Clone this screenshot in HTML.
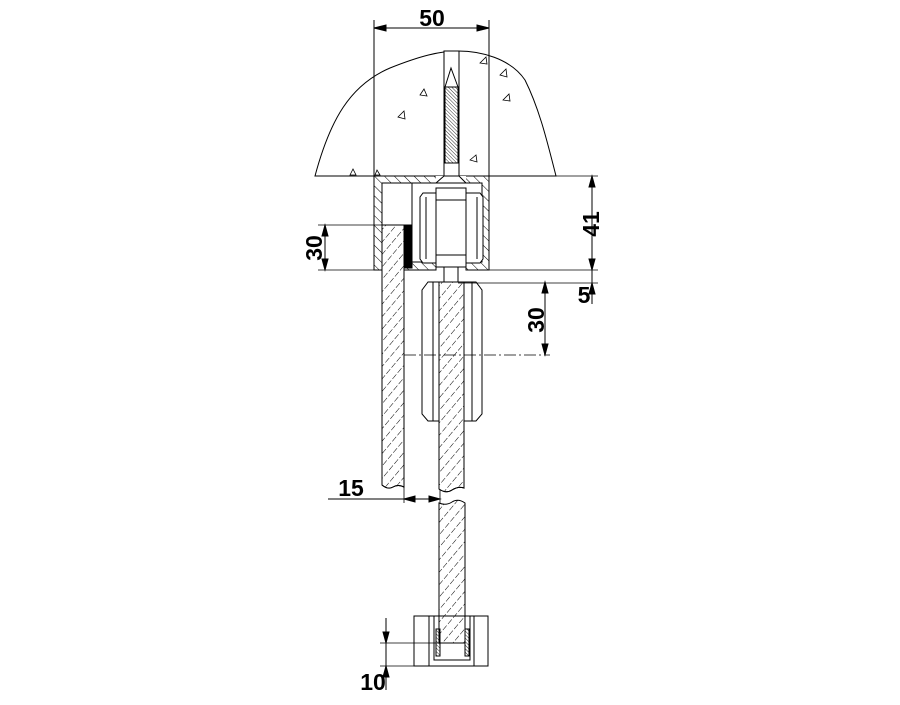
<!DOCTYPE html>
<html><head><meta charset="utf-8"><style>html,body{margin:0;padding:0;background:#fff}</style></head>
<body>
<svg width="900" height="700" viewBox="0 0 900 700" xmlns="http://www.w3.org/2000/svg" font-family="Liberation Sans, sans-serif">
<defs>
<pattern id="h" width="7" height="7" patternUnits="userSpaceOnUse" patternTransform="rotate(-45)"><line x1="0" y1="0" x2="0" y2="7" stroke="#000" stroke-width="1"/></pattern>
<pattern id="g" width="8" height="8" patternUnits="userSpaceOnUse" patternTransform="rotate(40)"><line x1="0" y1="0" x2="0" y2="6" stroke="#000" stroke-width="1"/></pattern>
<pattern id="b" width="2.5" height="2.5" patternUnits="userSpaceOnUse" patternTransform="rotate(-45)"><line x1="0" y1="0" x2="0" y2="2.5" stroke="#000" stroke-width="0.8"/></pattern>
</defs>
<g fill="none" stroke="#000" stroke-width="1">
<path d="M315,176 C330,120 350,85 390,68 C420,56 440,51 458,51 C480,51 510,58 525,80 C540,110 548,145 556,176 Z" fill="#fff"/>
<g stroke-width="0.8">
<path d="M398,117 l6,-6 l1,8 z M420,95 l4,-6 l3,7 z M503,100 l6,-6 l1,7 z M470,160 l6,-5 l1,7 z M480,63 l6,-6 l1,7 z M500,75 l6,-6 l1,8 z M350,175 l3,-6 l3,6 z M375,175 l2,-5 l3,5 z"/>
</g>
<line x1="374" y1="20" x2="374" y2="176"/>
<line x1="489" y1="20" x2="489" y2="176"/>
<rect x="444" y="51" width="15" height="125" fill="#fff"/>
<rect x="445" y="87" width="13" height="76" fill="url(#b)"/>
<path d="M445,87 L451,68 L458,87"/>
<line x1="374" y1="28" x2="489" y2="28"/>
<path d="M374,28 l12,-3 v6z M489,28 l-12,-3 v6z" fill="#000"/>
<path d="M374,176 H436 L444,183 H412 V262 H436 V270 H374 Z" fill="url(#h)"/>
<rect x="382" y="183" width="30" height="42" fill="#fff"/>
<path d="M466,176 H489 V270 H466 V262 H482 V183 H459 Z" fill="url(#h)"/>
<path d="M436,176 H466 V183 H436 Z" fill="#fff" stroke="none"/>
<path d="M436,183 L444,176 H459 L466,183 Z" fill="#fff"/>
<path d="M423,193 H480 L483,197 V259 L480,263 H423 L420,259 V197 Z" fill="#fff"/>
<line x1="426" y1="197" x2="426" y2="259"/><line x1="477" y1="197" x2="477" y2="259"/>
<rect x="436" y="188" width="30" height="79" fill="#fff"/>
<line x1="436" y1="200" x2="466" y2="200"/><line x1="436" y1="255" x2="466" y2="255"/>
<rect x="444" y="267" width="14" height="16" fill="#fff"/>
<path d="M382,225 H404 V487 Q398,484 393,487 T382,485 Z" fill="#fff"/>
<path d="M382,225 H404 V487 Q398,484 393,487 T382,485 Z" fill="url(#g)"/>
<rect x="404" y="225" width="8" height="43" fill="#000"/>
<path d="M428,282 H476 L482,290 V414 L476,421 H428 L422,414 V290 Z" fill="#fff"/>
<line x1="433" y1="282" x2="433" y2="421"/><line x1="472" y1="282" x2="472" y2="421"/>
<path d="M439,282 H464 V488 Q458,486 452,490 T439,489 Z" fill="#fff"/>
<path d="M439,282 H464 V488 Q458,486 452,490 T439,489 Z" fill="url(#g)"/>
<path d="M439,503 Q446,506 452,502 T465,503 V643 H439 Z" fill="url(#g)"/>
<rect x="414" y="616" width="74" height="50" fill="#fff"/>
<line x1="429" y1="616" x2="429" y2="666"/><line x1="474" y1="616" x2="474" y2="666"/>
<path d="M434,616 V660 H470 V616"/>
<path d="M439,616 V643 H465 V616" fill="url(#g)"/>
<rect x="436" y="629" width="4" height="27" fill="url(#b)"/>
<rect x="465" y="629" width="4" height="27" fill="url(#b)"/>
<line x1="318" y1="225" x2="382" y2="225" stroke-width="0.8"/>
<line x1="318" y1="270" x2="374" y2="270" stroke-width="0.8"/>
<line x1="325" y1="225" x2="325" y2="270"/>
<path d="M325,225 l-3,11 h6z M325,270 l-3,-11 h6z" fill="#000"/>
<line x1="489" y1="176" x2="598" y2="176" stroke-width="0.8"/>
<line x1="489" y1="270" x2="598" y2="270" stroke-width="0.8"/>
<line x1="592" y1="176" x2="592" y2="304"/>
<path d="M592,176 l-3,11 h6z M592,270 l-3,-11 h6z M592,283 l-3,11 h6z" fill="#000"/>
<line x1="458" y1="283" x2="598" y2="283" stroke-width="0.8"/>
<line x1="545" y1="282" x2="545" y2="355"/>
<path d="M545,282 l-3,11 h6z M545,355 l-3,-11 h6z" fill="#000"/>
<line x1="404" y1="355" x2="550" y2="355" stroke-width="0.7" stroke-dasharray="12,3,2,3"/>
<line x1="404" y1="487" x2="404" y2="503" stroke-width="0.8"/>
<line x1="440" y1="490" x2="440" y2="503" stroke-width="0.8"/>
<line x1="328" y1="499" x2="440" y2="499"/>
<path d="M404,499 l11,-3 v6z M440,499 l-11,-3 v6z" fill="#000"/>
<line x1="380" y1="643" x2="439" y2="643" stroke-width="0.8"/>
<line x1="380" y1="666" x2="414" y2="666" stroke-width="0.8"/>
<line x1="386" y1="618" x2="386" y2="690"/>
<path d="M386,643 l-3,-11 h6z M386,666 l-3,11 h6z" fill="#000"/>
</g>
<g font-weight="bold" font-size="23" fill="#000">
<text x="432" y="26" text-anchor="middle">50</text>
<text transform="translate(322,248) rotate(-90)" text-anchor="middle">30</text>
<text transform="translate(599,224) rotate(-90)" text-anchor="middle">41</text>
<text x="584" y="303" text-anchor="middle">5</text>
<text transform="translate(544,320) rotate(-90)" text-anchor="middle">30</text>
<text x="351" y="496" text-anchor="middle">15</text>
<text x="373" y="690" text-anchor="middle">10</text>
</g>
</svg>
</body></html>
